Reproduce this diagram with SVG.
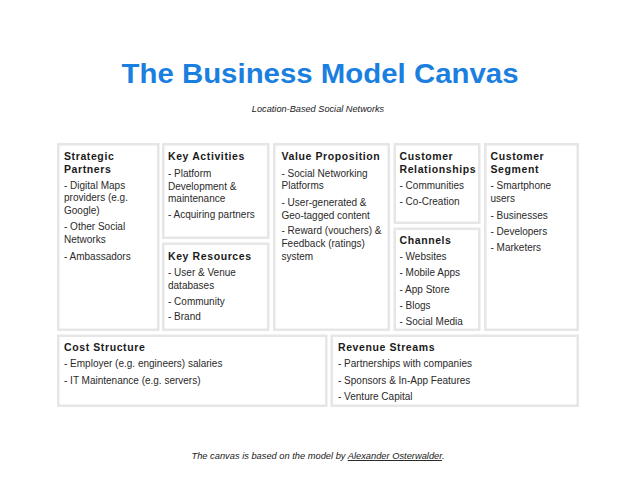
<svg xmlns="http://www.w3.org/2000/svg" width="638" height="479" viewBox="0 0 638 479">
<style>
.box{fill:#ffffff;stroke:#e6e6e6;stroke-width:2.5}
.h{font-family:"Liberation Sans",Arial,sans-serif;font-size:10.5px;font-weight:bold;letter-spacing:0.6px;fill:#1a1a1a}
.t{font-family:"Liberation Sans",Arial,sans-serif;font-size:10px;fill:#2a2a2a}
.title{font-family:"Liberation Sans",Arial,sans-serif;font-size:28px;font-weight:bold;fill:#1b7fe0}
.it{font-family:"Liberation Sans",Arial,sans-serif;font-style:italic;fill:#1a1a1a}
</style>
<rect x="0" y="0" width="638" height="479" fill="#ffffff"/>
<g id="header">
<text class="title" x="320" y="83" text-anchor="middle" textLength="397" lengthAdjust="spacingAndGlyphs">The Business Model Canvas</text>
<text class="it" x="318" y="112" font-size="9.2" text-anchor="middle">Location-Based Social Networks</text>
</g>
<g id="strategic-partners">
<rect class="box" x="58.25" y="144.25" width="100" height="185.5"/>
<text class="h" x="64" y="160">Strategic</text>
<text class="h" x="64" y="173">Partners</text>
<text class="t" x="64" y="189">- Digital Maps</text>
<text class="t" x="64" y="201">providers (e.g.</text>
<text class="t" x="64" y="214">Google)</text>
<text class="t" x="64" y="230">- Other Social</text>
<text class="t" x="64" y="243">Networks</text>
<text class="t" x="64" y="260">- Ambassadors</text>
</g>
<g id="key-activities">
<rect class="box" x="163.25" y="144.25" width="105" height="93.5"/>
<text class="h" x="168" y="160">Key Activities</text>
<text class="t" x="168" y="176.5">- Platform</text>
<text class="t" x="168" y="189.5">Development &amp;</text>
<text class="t" x="168" y="202">maintenance</text>
<text class="t" x="168" y="217.5">- Acquiring partners</text>
</g>
<g id="key-resources">
<rect class="box" x="163.25" y="243.75" width="105" height="86"/>
<text class="h" x="168" y="260">Key Resources</text>
<text class="t" x="168" y="276">- User &amp; Venue</text>
<text class="t" x="168" y="289">databases</text>
<text class="t" x="168" y="305">- Community</text>
<text class="t" x="168" y="320">- Brand</text>
</g>
<g id="value-proposition">
<rect class="box" x="274.25" y="144.25" width="114.5" height="185.5"/>
<text class="h" x="281.5" y="160">Value Proposition</text>
<text class="t" x="281.5" y="177">- Social Networking</text>
<text class="t" x="281.5" y="189">Platforms</text>
<text class="t" x="281.5" y="206">- User-generated &amp;</text>
<text class="t" x="281.5" y="218.5">Geo-tagged content</text>
<text class="t" x="281.5" y="234">- Reward (vouchers) &amp;</text>
<text class="t" x="281.5" y="247">Feedback (ratings)</text>
<text class="t" x="281.5" y="260">system</text>
</g>
<g id="customer-relationships">
<rect class="box" x="394.75" y="144.25" width="84.5" height="78.5"/>
<text class="h" x="399.5" y="160">Customer</text>
<text class="h" x="399.5" y="173">Relationships</text>
<text class="t" x="399.5" y="189">- Communities</text>
<text class="t" x="399.5" y="205">- Co-Creation</text>
</g>
<g id="channels">
<rect class="box" x="394.75" y="228.75" width="84.5" height="101"/>
<text class="h" x="399.5" y="244">Channels</text>
<text class="t" x="399.5" y="260">- Websites</text>
<text class="t" x="399.5" y="276">- Mobile Apps</text>
<text class="t" x="399.5" y="293">- App Store</text>
<text class="t" x="399.5" y="309">- Blogs</text>
<text class="t" x="399.5" y="325">- Social Media</text>
</g>
<g id="customer-segment">
<rect class="box" x="485.25" y="144.25" width="92.5" height="185.5"/>
<text class="h" x="490.5" y="160">Customer</text>
<text class="h" x="490.5" y="173">Segment</text>
<text class="t" x="490.5" y="189">- Smartphone</text>
<text class="t" x="490.5" y="201.5">users</text>
<text class="t" x="490.5" y="219">- Businesses</text>
<text class="t" x="490.5" y="234.5">- Developers</text>
<text class="t" x="490.5" y="251">- Marketers</text>
</g>
<g id="cost-structure">
<rect class="box" x="58.25" y="335.75" width="268" height="70"/>
<text class="h" x="64" y="351">Cost Structure</text>
<text class="t" x="64" y="367">- Employer (e.g. engineers) salaries</text>
<text class="t" x="64" y="383.5">- IT Maintenance (e.g. servers)</text>
</g>
<g id="revenue-streams">
<rect class="box" x="331.75" y="335.75" width="246" height="70"/>
<text class="h" x="338" y="351">Revenue Streams</text>
<text class="t" x="338" y="367">- Partnerships with companies</text>
<text class="t" x="338" y="383.5">- Sponsors &amp; In-App Features</text>
<text class="t" x="338" y="399.5">- Venture Capital</text>
</g>
<g id="footer">
<text class="it" x="191.5" y="459" font-size="9.3">The canvas is based on the model by <tspan text-decoration="underline">Alexander Osterwalder</tspan>.</text>
</g>
</svg>
